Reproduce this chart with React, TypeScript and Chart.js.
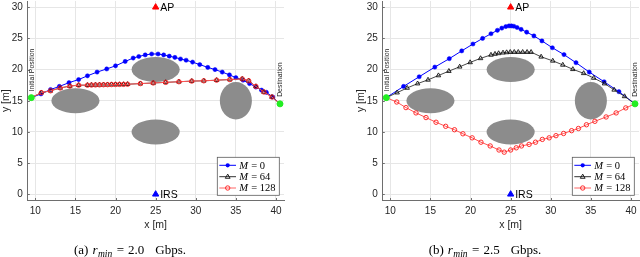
import React, { useEffect, useRef } from "react";
import { Chart, registerables } from "chart.js";

Chart.register(...registerables);

// ---------- data ----------
const xTicks = [10, 15, 20, 25, 30, 35, 40];
const yTicks = [0, 5, 10, 15, 20, 25, 30];

const startPoint = [9.5, 15.5];
const destPoint = [40.5, 14.5];
const apPoint = [25, 30];
const irsPoint = [25, 0];

const obstacleCx = [15, 25, 25, 35];
const obstacleCy = [15, 20, 10, 15];
const obstacleRx = [3, 3, 3, 2];
const obstacleRy = [2, 2, 2, 3];

const legendLabels = ["0", "64", "128"];

// panel (a): r_min = 2.0 Gbps
const aM0X = [9.5, 10.7, 11.9, 13.0, 14.2, 15.4, 16.5, 17.7, 18.9, 20.0, 21.2, 22.2, 22.9, 23.7, 24.5, 25.3, 26.0, 26.7, 27.4, 28.1, 28.8, 29.6, 30.5, 31.5, 32.4, 33.3, 34.2, 35.0, 35.9, 36.7, 37.5, 38.2, 38.8, 39.6, 40.5];
const aM0Y = [15.5, 16.1, 16.8, 17.3, 17.9, 18.4, 19.0, 19.6, 20.1, 20.6, 21.3, 21.85, 22.1, 22.35, 22.5, 22.5, 22.35, 22.15, 21.95, 21.7, 21.5, 21.2, 20.8, 20.35, 20.0, 19.6, 19.15, 18.7, 18.3, 17.75, 17.2, 16.7, 16.35, 15.6, 14.5];
const aM64X = [9.5, 10.75, 11.9, 13.1, 14.3, 15.4, 16.5, 17.0, 17.5, 18.0, 18.5, 19.0, 19.5, 20.0, 20.5, 21.0, 21.5, 23.1, 24.7, 26.25, 27.9, 29.5, 31.0, 32.6, 34.25, 35.8, 36.6, 37.5, 38.5, 39.5, 40.5];
const aM64Y = [15.5, 16.3, 16.6, 17.05, 17.35, 17.5, 17.5, 17.52, 17.54, 17.55, 17.57, 17.58, 17.6, 17.61, 17.62, 17.63, 17.65, 17.75, 17.85, 17.95, 18.05, 18.15, 18.2, 18.3, 18.4, 18.5, 18.2, 17.3, 16.4, 15.6, 14.5];
const aM128X = [9.5, 10.75, 11.9, 13.1, 14.3, 15.4, 16.5, 17.0, 17.5, 18.0, 18.5, 19.0, 19.5, 20.0, 20.5, 21.0, 21.5, 23.1, 24.7, 26.25, 27.9, 29.5, 31.0, 32.6, 34.25, 35.8, 36.6, 37.5, 38.5, 39.5, 40.5];
const aM128Y = [15.5, 16.3, 16.6, 17.05, 17.35, 17.5, 17.5, 17.52, 17.54, 17.55, 17.57, 17.58, 17.6, 17.61, 17.62, 17.63, 17.65, 17.75, 17.85, 17.95, 18.05, 18.15, 18.2, 18.3, 18.4, 18.5, 18.2, 17.3, 16.4, 15.6, 14.5];

// panel (b): r_min = 2.5 Gbps
const bM0X = [9.5, 11.65, 13.6, 15.55, 17.35, 18.9, 20.3, 21.5, 22.55, 23.35, 23.9, 24.4, 24.8, 25.1, 25.4, 25.8, 26.3, 27.0, 27.9, 28.9, 30.2, 31.65, 33.15, 34.8, 36.65, 38.5, 40.5];
const bM0Y = [15.5, 17.3, 18.85, 20.4, 21.75, 23.0, 24.1, 25.0, 25.75, 26.3, 26.65, 26.9, 27.0, 27.0, 26.95, 26.75, 26.45, 26.0, 25.4, 24.6, 23.5, 22.4, 21.1, 19.6, 18.05, 16.45, 14.5];
const bM64X = [9.5, 10.85, 12.1, 13.4, 14.7, 16.0, 17.3, 18.65, 19.95, 21.25, 22.55, 23.05, 23.5, 24.05, 24.5, 24.95, 25.45, 25.95, 26.5, 27.05, 27.55, 28.8, 30.25, 31.5, 32.75, 34.1, 35.35, 36.7, 37.9, 39.2, 40.5];
const bM64Y = [15.5, 16.3, 17.05, 17.75, 18.35, 19.05, 19.75, 20.45, 21.15, 21.8, 22.35, 22.5, 22.6, 22.7, 22.75, 22.8, 22.8, 22.8, 22.8, 22.8, 22.8, 22.05, 21.4, 20.75, 20.05, 19.4, 18.65, 17.75, 16.75, 15.7, 14.5];
const bM128X = [9.5, 10.8, 11.95, 13.2, 14.45, 15.7, 16.9, 18.0, 19.05, 20.2, 21.3, 22.45, 23.55, 24.2, 25.0, 25.7, 26.35, 27.3, 28.1, 28.95, 29.8, 30.65, 31.6, 32.6, 33.45, 34.45, 35.5, 36.9, 38.15, 39.35, 40.5];
const bM128Y = [15.5, 14.8, 13.9, 13.05, 12.3, 11.55, 10.9, 10.35, 9.7, 9.05, 8.35, 7.75, 7.1, 6.75, 7.1, 7.45, 7.75, 8.0, 8.35, 8.8, 9.05, 9.4, 9.75, 10.2, 10.55, 11.15, 11.7, 12.4, 13.05, 13.85, 14.5];

// ---------- helpers ----------
const zip = (xs: number[], ys: number[]) => xs.map((x, i) => ({ x, y: ys[i] }));

const BLUE = "#0000ff";
const RED = "#ff1a1a";
const BLACK = "#111111";
const TICK_COLOR = "#262626";

function drawMarker(ctx: CanvasRenderingContext2D, kind: number, x: number, y: number) {
  ctx.save();
  ctx.lineWidth = 0.9;
  if (kind === 0) {
    ctx.fillStyle = BLUE;
    ctx.beginPath();
    ctx.arc(x, y, 2.1, 0, Math.PI * 2);
    ctx.fill();
  } else if (kind === 1) {
    ctx.strokeStyle = BLACK;
    ctx.beginPath();
    ctx.moveTo(x, y - 2.6);
    ctx.lineTo(x + 2.4, y + 1.6);
    ctx.lineTo(x - 2.4, y + 1.6);
    ctx.closePath();
    ctx.stroke();
  } else {
    ctx.strokeStyle = RED;
    ctx.beginPath();
    ctx.arc(x, y, 2.2, 0, Math.PI * 2);
    ctx.stroke();
  }
  ctx.restore();
}

function makePlugin(label: string, rate: string) {
  return {
    id: "customDraw",
    beforeDatasetsDraw(chart: any) {
      const ctx: CanvasRenderingContext2D = chart.ctx;
      const xs = chart.scales.x;
      const ys = chart.scales.y;
      ctx.save();
      ctx.fillStyle = "#8c8c8c";
      for (let i = 0; i < obstacleCx.length; i++) {
        const cx = xs.getPixelForValue(obstacleCx[i]);
        const cy = ys.getPixelForValue(obstacleCy[i]);
        const rx = Math.abs(xs.getPixelForValue(obstacleCx[i] + obstacleRx[i]) - cx);
        const ry = Math.abs(ys.getPixelForValue(obstacleCy[i] + obstacleRy[i]) - cy);
        ctx.beginPath();
        ctx.ellipse(cx, cy, rx, ry, 0, 0, Math.PI * 2);
        ctx.fill();
      }
      ctx.restore();
    },
    afterDraw(chart: any) {
      const ctx: CanvasRenderingContext2D = chart.ctx;
      const xs = chart.scales.x;
      const ys = chart.scales.y;
      const area = chart.chartArea;
      ctx.save();
      // inner tick marks
      ctx.strokeStyle = "#6e6e6e";
      ctx.lineWidth = 1;
      xTicks.forEach((v) => {
        const px = Math.round(xs.getPixelForValue(v)) + 0.5;
        ctx.beginPath();
        ctx.moveTo(px, area.bottom);
        ctx.lineTo(px, area.bottom - 2.5);
        ctx.stroke();
      });
      yTicks.forEach((v) => {
        const py = Math.round(ys.getPixelForValue(v)) + 0.5;
        ctx.beginPath();
        ctx.moveTo(area.left, py);
        ctx.lineTo(area.left + 2.5, py);
        ctx.stroke();
      });

      // axis titles
      ctx.fillStyle = TICK_COLOR;
      ctx.font = "10.5px 'Liberation Sans'";
      ctx.textAlign = "center";
      ctx.textBaseline = "middle";
      ctx.fillText("x [m]", xs.getPixelForValue(25), 225.5);
      ctx.save();
      ctx.translate(6.5, (area.top + area.bottom) / 2);
      ctx.rotate(-Math.PI / 2);
      ctx.fillText("y [m]", 0, 0);
      ctx.restore();

      // AP / IRS labels
      ctx.fillStyle = "#000";
      ctx.textAlign = "left";
      ctx.font = "10.5px 'Liberation Sans'";
      ctx.fillText("AP", xs.getPixelForValue(apPoint[0]) + 4.5, ys.getPixelForValue(apPoint[1]) + 0.5);
      ctx.fillText("IRS", xs.getPixelForValue(irsPoint[0]) + 4.5, ys.getPixelForValue(irsPoint[1]) + 0.5);

      // rotated position labels
      ctx.font = "6.9px 'Liberation Sans'";
      ctx.fillStyle = "#222";
      const rot = (text: string, px: number, py: number) => {
        ctx.save();
        ctx.translate(px, py);
        ctx.rotate(-Math.PI / 2);
        ctx.textAlign = "left";
        ctx.textBaseline = "middle";
        ctx.fillText(text, 0, 0);
        ctx.restore();
      };
      rot("Initial Position", xs.getPixelForValue(startPoint[0]) + 1, ys.getPixelForValue(startPoint[1]) - 6.5);
      rot("Destination", xs.getPixelForValue(destPoint[0]) + 0.5, ys.getPixelForValue(destPoint[1]) - 7);

      // legend
      const lx0 = 217.3, ly0 = 157.3, lw = 62, lh = 38;
      ctx.fillStyle = "#fff";
      ctx.fillRect(lx0, ly0, lw, lh);
      ctx.strokeStyle = "#5a5a5a";
      ctx.lineWidth = 0.8;
      ctx.strokeRect(lx0, ly0, lw, lh);
      const rows = [165.3, 176.7, 188];
      const colors = [BLUE, "#333", "#ff6666"];
      rows.forEach((ry, i) => {
        ctx.strokeStyle = colors[i];
        ctx.lineWidth = 1;
        ctx.beginPath();
        ctx.moveTo(219.3, ry);
        ctx.lineTo(236, ry);
        ctx.stroke();
        drawMarker(ctx, i, 227.7, ry);
        ctx.fillStyle = "#000";
        ctx.textAlign = "left";
        ctx.textBaseline = "middle";
        ctx.font = "italic 10.5px 'Liberation Serif'";
        ctx.fillText("M", 239.3, ry + 0.5);
        const mw = ctx.measureText("M").width;
        ctx.font = "10.5px 'Liberation Serif'";
        ctx.fillText(" = " + legendLabels[i], 239.3 + mw + 0.5, ry + 0.5);
      });

      // caption
      const baseY = 254;
      const parts: [string, string, number, number][] = [
        ["(" + label + ")", "13px 'Liberation Serif'", 0, 4],
        ["r", "italic 13px 'Liberation Serif'", 0, 0.5],
        ["min", "italic 9.5px 'Liberation Serif'", 2.5, 4.5],
        ["=", "13px 'Liberation Serif'", 0, 4],
        [rate, "13px 'Liberation Serif'", 0, 11],
        ["Gbps.", "13px 'Liberation Serif'", 0, 0],
      ];
      let total = 0;
      parts.forEach(([t, f, , gap]) => {
        ctx.font = f;
        total += ctx.measureText(t).width + gap;
      });
      let cx = 130 - total / 2;
      ctx.fillStyle = "#000";
      ctx.textAlign = "left";
      ctx.textBaseline = "alphabetic";
      parts.forEach(([t, f, dy, gap]) => {
        ctx.font = f;
        ctx.fillText(t, cx, baseY + dy);
        cx += ctx.measureText(t).width + gap;
      });
      ctx.restore();
    },
  };
}

type Panel = {
  m0: { x: number; y: number }[];
  m64: { x: number; y: number }[];
  m128: { x: number; y: number }[];
  label: string;
  rate: string;
};

function zeroPad(s: any) {
  s.paddingTop = 0;
  s.paddingBottom = 0;
  s.paddingLeft = 0;
  s.paddingRight = 0;
}

function buildChart(canvas: HTMLCanvasElement, p: Panel) {
  const tickFont = { family: "'Liberation Sans'", size: 10 };
  return new Chart(canvas, {
    type: "scatter",
    data: {
      datasets: [
        {
          data: p.m0,
          showLine: true,
          borderColor: BLUE,
          borderWidth: 1,
          pointRadius: 2.1,
          pointBackgroundColor: BLUE,
          pointBorderColor: BLUE,
          pointBorderWidth: 0.5,
          order: 3,
        },
        {
          data: p.m64,
          showLine: true,
          borderColor: "#333",
          borderWidth: 0.9,
          pointStyle: "triangle",
          pointRadius: 2.6,
          pointBackgroundColor: "rgba(0,0,0,0)",
          pointBorderColor: BLACK,
          pointBorderWidth: 0.9,
          order: 2,
        },
        {
          data: p.m128,
          showLine: true,
          borderColor: "#ff5555",
          borderWidth: 1,
          pointRadius: 2.2,
          pointBackgroundColor: "rgba(0,0,0,0)",
          pointBorderColor: RED,
          pointBorderWidth: 0.9,
          order: 1,
        },
        {
          data: [
            { x: startPoint[0], y: startPoint[1] },
            { x: destPoint[0], y: destPoint[1] },
          ],
          pointRadius: 3,
          pointBackgroundColor: "#22ee22",
          pointBorderColor: "#22ee22",
          order: 0,
        },
        {
          data: [{ x: apPoint[0], y: apPoint[1] }],
          pointStyle: "triangle",
          pointRadius: 3.6,
          pointBackgroundColor: "#ff0000",
          pointBorderColor: "#ff0000",
          order: 0,
        },
        {
          data: [{ x: irsPoint[0], y: irsPoint[1] }],
          pointStyle: "triangle",
          pointRadius: 3.6,
          pointBackgroundColor: BLUE,
          pointBorderColor: BLUE,
          order: 0,
        },
      ],
    },
    options: {
      animation: false,
      responsive: false,
      devicePixelRatio: 1,
      layout: { autoPadding: false, padding: { left: 0, right: 1, top: 1, bottom: 0 } },
      plugins: { legend: { display: false }, tooltip: { enabled: false }, title: { display: false } },
      elements: { line: { tension: 0 } },
      scales: {
        x: {
          type: "linear",
          min: 9,
          max: 41,
          afterBuildTicks: (s: any) => {
            s.ticks = xTicks.map((v) => ({ value: v }));
          },
          afterFit: (s: any) => {
            s.height = 56.5;
            zeroPad(s);
          },
          grid: { color: "#e6e6e6", drawTicks: false, lineWidth: 1 },
          border: { display: true, color: "#6e6e6e", width: 1 },
          ticks: { font: tickFont, color: TICK_COLOR, padding: 5, maxRotation: 0 },
        },
        y: {
          type: "linear",
          min: -1,
          max: 31,
          afterBuildTicks: (s: any) => {
            s.ticks = yTicks.map((v) => ({ value: v }));
          },
          afterFit: (s: any) => {
            s.width = 27.3;
            zeroPad(s);
          },
          grid: { color: "#e6e6e6", drawTicks: false, lineWidth: 1 },
          border: { display: true, color: "#6e6e6e", width: 1 },
          ticks: { font: tickFont, color: TICK_COLOR, padding: 4.5 },
        },
      },
    },
    plugins: [makePlugin(p.label, p.rate)],
  } as any);
}

function PanelChart({ panel, left }: { panel: Panel; left: number }) {
  const ref = useRef<HTMLCanvasElement>(null);
  useEffect(() => {
    if (!ref.current) return;
    const c = buildChart(ref.current, panel);
    return () => c.destroy();
  }, [panel]);
  return (
    <canvas
      ref={ref}
      width={285}
      height={257}
      style={{ position: "absolute", left, top: 0, width: 285, height: 257 }}
    />
  );
}

const panelA: Panel = { m0: zip(aM0X, aM0Y), m64: zip(aM64X, aM64Y), m128: zip(aM128X, aM128Y), label: "a", rate: "2.0" };
const panelB: Panel = { m0: zip(bM0X, bM0Y), m64: zip(bM64X, bM64Y), m128: zip(bM128X, bM128Y), label: "b", rate: "2.5" };

export default function App() {
  return (
    <div style={{ position: "fixed", left: 0, top: 0, width: 640, height: 257, background: "#fff", overflow: "hidden" }}>
      <PanelChart panel={panelA} left={0} />
      <PanelChart panel={panelB} left={355} />
    </div>
  );
}
